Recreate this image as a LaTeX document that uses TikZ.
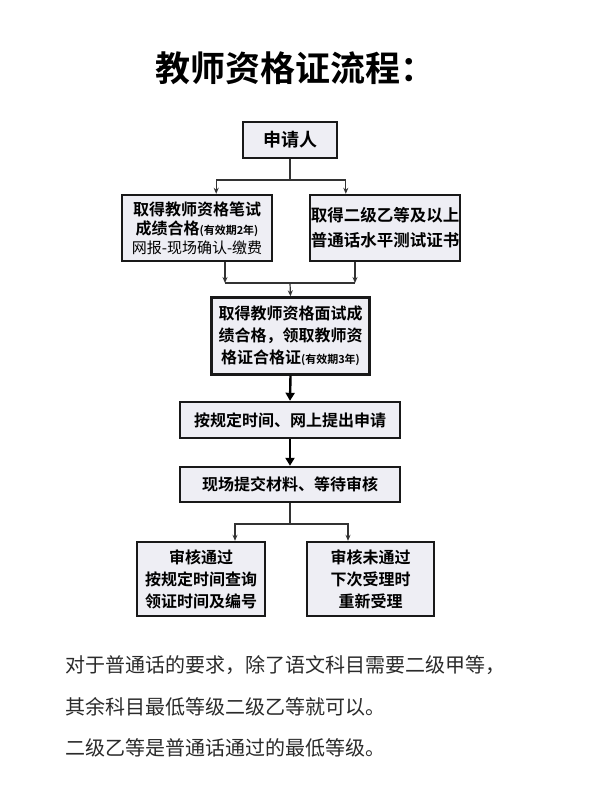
\documentclass[tikz,border=0pt]{standalone}
\usepackage{fontspec}
\setmainfont{Noto Sans CJK SC}
\newfontfamily\cjkb{Noto Sans CJK SC Bold}
\usetikzlibrary{arrows.meta}
\definecolor{boxfill}{HTML}{EEEEF4}
\definecolor{txtgray}{HTML}{2A2A2A}
\tikzset{
  flowbox/.style={draw=black!90, line width=2.4pt, fill=boxfill, align=center, inner sep=0pt,
     font=\cjkb\fontsize{16}{22}\selectfont},
  thinarrow/.style={draw=black!80, line width=1.2pt, -{Stealth[length=6pt,width=5pt]}},
  thinline/.style={draw=black!80, line width=1.2pt},
  thickarrow/.style={draw=black, line width=2.4pt, -{Triangle[length=8pt,width=9pt]}},
  note/.style={anchor=west, inner sep=0pt, text=txtgray, font=\fontsize{20}{24}\selectfont}
}
\begin{document}
\begin{tikzpicture}[x=1pt,y=-1pt]
\useasboundingbox[fill=white] (0,0) rectangle (600,800);
\node[font=\cjkb\fontsize{35}{38}\selectfont] (title) at (295,68) {教师资格证流程：};

\node[flowbox, minimum width=94pt, minimum height=36pt, font=\cjkb\fontsize{18}{20}\selectfont] (apply) at (290,140) {申请人};

\node[flowbox, minimum width=150pt, minimum height=66pt, font=\cjkb\fontsize{16}{19}\selectfont] (left) at (197,228)
  {取得教师资格笔试\\成绩合格{\fontsize{11}{19}\selectfont(有效期2年)}\\{\normalfont\fontsize{15}{19}\selectfont 网报-现场确认-缴费}};
\node[flowbox, minimum width=150pt, minimum height=66pt, font=\cjkb\fontsize{16.5}{25}\selectfont] (right) at (385,228)
  {取得二级乙等及以上\\普通话水平测试证书};

\node[flowbox, minimum width=158pt, minimum height=77pt] (mid) at (290.5,336)
  {取得教师资格面试成\\绩合格，领取教师资\\格证合格证{\fontsize{11}{22}\selectfont(有效期3年)}};

\node[flowbox, minimum width=220pt, minimum height=36pt] (online) at (290,420) {按规定时间、网上提出申请};
\node[flowbox, minimum width=220pt, minimum height=35pt] (submit) at (290,484.5) {现场提交材料、等待审核};

\node[flowbox, minimum width=128pt, minimum height=74pt] (pass) at (201,579) {审核通过\\按规定时间查询\\领证时间及编号};
\node[flowbox, minimum width=127pt, minimum height=74pt] (fail) at (370.5,579) {审核未通过\\下次受理时\\重新受理};

% split 1
\coordinate (j1) at (290,180);
\draw[thinline] (apply.south) -- (j1);
\draw[thinarrow] (j1) -| ([xshift=-57pt]left.north east);
\draw[thinarrow] (j1) -| ([xshift=37pt]right.north west);

% merge
\coordinate (m1) at (225,283);
\coordinate (m2) at (355,283);
\coordinate (mc) at (290,283);
\draw[thinarrow] ([xshift=28pt]left.south) -- (m1);
\draw[thinarrow] ([xshift=-30pt]right.south) -- (m2);
\draw[thinline] (m1) -- (m2);
\draw[thinarrow] (mc) -- (mid.north);

% thick
\draw[thickarrow] (mid.south) -- (online.north);
\draw[thickarrow] (online.south) -- (submit.north);

% split 2
\coordinate (j2) at (290,524);
\draw[thinline] (submit.south) -- (j2);
\draw[thinarrow] (j2) -| ([xshift=34pt]pass.north);
\draw[thinarrow] (j2) -| ([xshift=-22.5pt]fail.north);

\node[note] (n1) at (65,665) {对于普通话的要求，除了语文科目需要二级甲等，};
\node[note] (n2) at (65,707) {其余科目最低等级二级乙等就可以。};
\node[note] (n3) at (65,748) {二级乙等是普通话通过的最低等级。};
\end{tikzpicture}
\end{document}
